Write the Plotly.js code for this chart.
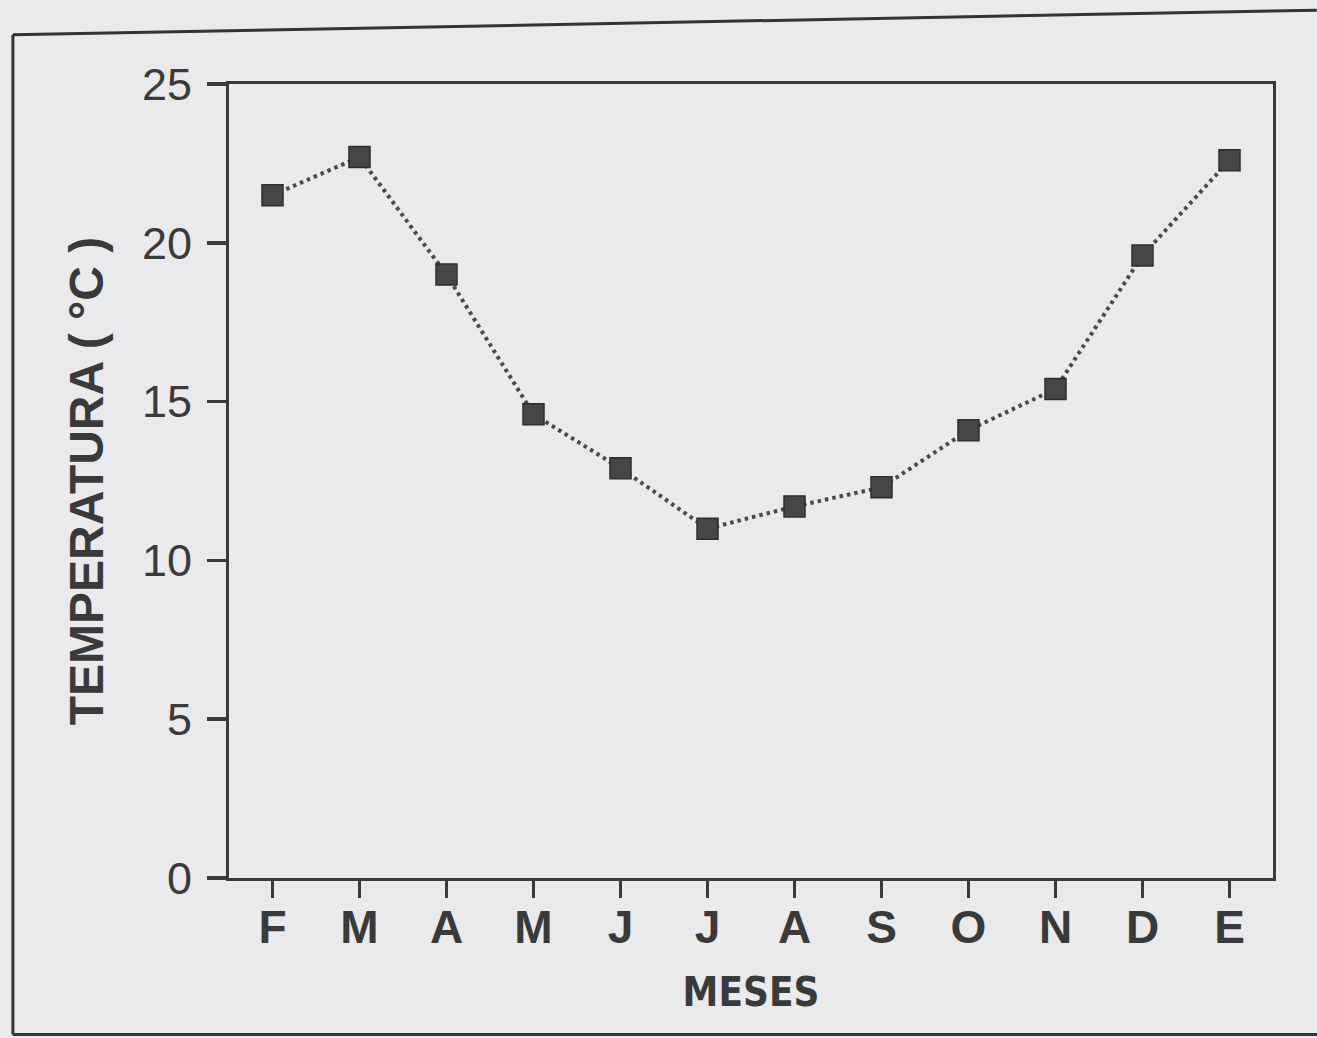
<!DOCTYPE html>
<html>
<head>
<meta charset="utf-8">
<script src="https://cdn.plot.ly/plotly-3.0.1.min.js"></script>
<style>
  html, body { margin: 0; padding: 0; background: #eaeaec; }
  #chart { width: 1317px; height: 1038px; }
</style>
</head>
<body>
<div id="chart"></div>
<script>
// Months (Feb → Jan) and their axis labels
const months = ["Febrero", "Marzo", "Abril", "Mayo", "Junio", "Julio",
                "Agosto", "Septiembre", "Octubre", "Noviembre", "Diciembre", "Enero"];
const monthLabels = ["F", "M", "A", "M", "J", "J", "A", "S", "O", "N", "D", "E"];
// Mean temperature (°C)
const temperature = [21.5, 22.7, 19.0, 14.6, 12.9, 11.0, 11.7, 12.3, 14.1, 15.4, 19.6, 22.6];
// Y-axis ticks
const yTicks = [0, 5, 10, 15, 20, 25];

const ink = "#3a3a3a";
const bg = "#eaeaec";
const sans = "Liberation Sans, Arial, Helvetica, sans-serif";

const trace = {
  type: "scatter",
  mode: "lines+markers",
  x: months,
  y: temperature,
  line: { color: "#4a4a4a", width: 4, dash: "3.5px,4px" },
  marker: { symbol: "square", size: 21, color: "#464646",
            line: { color: "#2e2e2e", width: 1.5 } },
  hoverinfo: "x+y",
  showlegend: false
};

const layout = {
  width: 1317,
  height: 1038,
  paper_bgcolor: bg,
  plot_bgcolor: bg,
  margin: { l: 229, r: 44, t: 84, b: 160 },
  font: { family: sans, color: ink },
  xaxis: {
    type: "category",
    categoryorder: "array",
    categoryarray: months,
    tickvals: months,
    ticktext: monthLabels,
    range: [-0.5, 11.5],
    showgrid: false,
    zeroline: false,
    showline: true,
    mirror: true,
    linecolor: ink,
    linewidth: 3,
    ticks: "outside",
    ticklen: 17,
    tickwidth: 3.5,
    tickcolor: ink,
    ticklabelstandoff: -10,
    tickfont: { family: sans, size: 46, color: ink, weight: "bold" },
    title: {
      text: "\u00A0MESES",
      standoff: 26,
      font: { family: "Liberation Sans Narrow, DejaVu Sans Condensed, Liberation Sans, Arial, sans-serif",
              size: 40, color: ink, weight: "bold" }
    }
  },
  yaxis: {
    range: [0, 25],
    tickvals: yTicks,
    showgrid: false,
    zeroline: false,
    showline: true,
    mirror: true,
    linecolor: ink,
    linewidth: 3,
    ticks: "outside",
    ticklen: 19,
    tickwidth: 3.5,
    tickcolor: ink,
    ticklabelstandoff: 6,
    tickfont: { family: sans, size: 45, color: ink },
    title: {
      text: "\u00A0\u00A0TEMPERATURA ( °C )",
      standoff: 24,
      font: { family: sans, size: 48, color: ink, weight: "bold" }
    }
  },
  shapes: [
    // outer figure frame (left, top, bottom edges)
    { type: "line", xref: "paper", yref: "paper", x0: -0.207, x1: -0.207, y0: -0.197, y1: 1.062,
      line: { color: "#333333", width: 3 } },
    { type: "line", xref: "paper", yref: "paper", x0: -0.207, x1: 1.042, y0: 1.062, y1: 1.093,
      line: { color: "#333333", width: 3 } },
    { type: "line", xref: "paper", yref: "paper", x0: -0.207, x1: 1.06, y0: -0.197, y1: -0.197,
      line: { color: "#333333", width: 3 } }
  ]
};

Plotly.newPlot("chart", [trace], layout, { displayModeBar: false, staticPlot: true });
</script>
</body>
</html>
